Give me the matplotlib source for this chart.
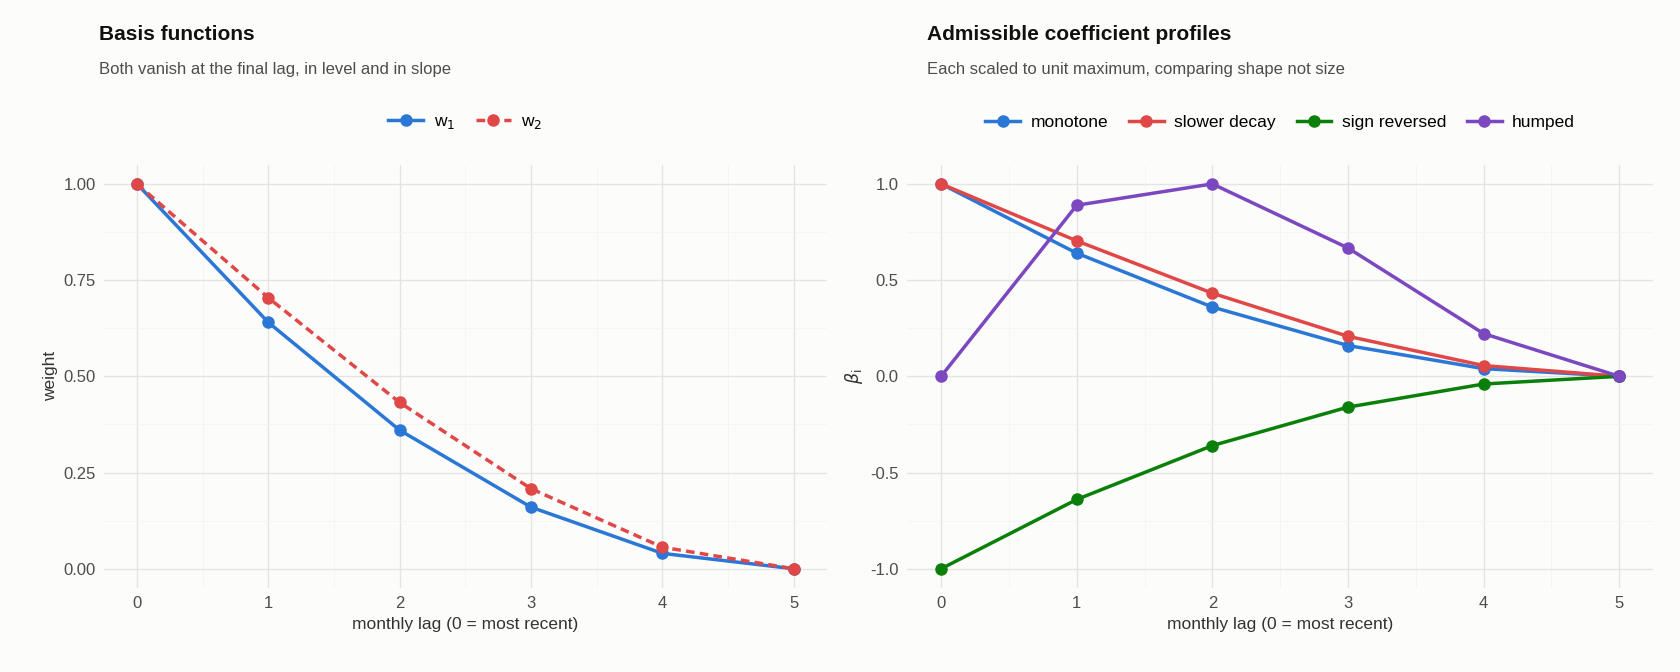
import matplotlib
matplotlib.use("Agg")
import matplotlib.pyplot as plt

lags = [0, 1, 2, 3, 4, 5]
w1 = [1.0, 0.64, 0.36, 0.16, 0.04, 0.0]
w2 = [1.0, 0.704, 0.432, 0.208, 0.056, 0.0]
monotone = [1.0, 0.64, 0.36, 0.16, 0.04, 0.0]
slower = [1.0, 0.704, 0.432, 0.208, 0.056, 0.0]
reversed_ = [-1.0, -0.64, -0.36, -0.16, -0.04, 0.0]
humped = [0.0, 0.889, 1.0, 0.667, 0.222, 0.0]

BG = "#FCFCFA"
BLUE, RED, GREEN, PURPLE = "#2A77D6", "#E04848", "#0A800A", "#7B48C0"
plt.rcParams["font.family"] = ["Liberation Sans", "DejaVu Sans"]

fig = plt.figure(figsize=(16.8, 6.72), dpi=100, facecolor=BG)
ax1 = fig.add_axes([0.062, 0.125, 0.43, 0.63], facecolor=BG)
ax2 = fig.add_axes([0.540, 0.125, 0.444, 0.63], facecolor=BG)

def style(ax, yticks, ylabels, ylim):
    ax.set_xlim(-0.25, 5.25)
    ax.set_ylim(*ylim)
    ax.set_xticks(lags)
    ax.set_yticks(yticks)
    ax.set_yticklabels(ylabels)
    minor = [(a + b) / 2 for a, b in zip(yticks[:-1], yticks[1:])]
    ax.set_yticks(minor, minor=True)
    ax.set_xticks([l + 0.5 for l in lags[:-1]], minor=True)
    ax.grid(True, which="major", color="#E4E4E4", lw=1.0)
    ax.grid(True, which="minor", color="#F3F3F3", lw=0.5)
    ax.set_axisbelow(True)
    for s in ax.spines.values():
        s.set_visible(False)
    ax.tick_params(which="both", length=0, labelsize=12, colors="#4D4D4D", pad=6)
    ax.set_xlabel("monthly lag (0 = most recent)", fontsize=12.5, color="#333333")

style(ax1, [0, 0.25, 0.5, 0.75, 1.0], ["0.00", "0.25", "0.50", "0.75", "1.00"], (-0.05, 1.05))
style(ax2, [-1, -0.5, 0, 0.5, 1], ["-1.0", "-0.5", "0.0", "0.5", "1.0"], (-1.1, 1.1))

ax1.plot(lags, w1, color=BLUE, lw=2.5, marker="o", ms=8, label="w$_1$", zorder=3)
ax1.plot(lags, w2, color=RED, lw=2.5, ls=(0, (2.5, 1.5)), marker="o", ms=8, label="w$_2$", zorder=3)
ax1.set_ylabel("weight", fontsize=12.5, color="#333333")

for y, c, lab in [(monotone, BLUE, "monotone"), (slower, RED, "slower decay"),
                  (reversed_, GREEN, "sign reversed"), (humped, PURPLE, "humped")]:
    ax2.plot(lags, y, color=c, lw=2.5, marker="o", ms=8, label=lab, zorder=3)
ax2.set_ylabel(r"$\beta_\mathrm{i}$", fontsize=12.5, color="#333333")

fig.text(0.059, 0.94, "Basis functions", fontsize=15, fontweight="bold", color="#111111")
fig.text(0.059, 0.89, "Both vanish at the final lag, in level and in slope", fontsize=12, color="#4D4D4D")
fig.text(0.552, 0.94, "Admissible coefficient profiles", fontsize=15, fontweight="bold", color="#111111")
fig.text(0.552, 0.89, "Each scaled to unit maximum, comparing shape not size", fontsize=12, color="#4D4D4D")

leg_kw = dict(frameon=False, fontsize=12.5, handlelength=2.0, borderaxespad=0, columnspacing=1.2, handletextpad=0.6)
ax1.legend(loc="center", bbox_to_anchor=(0.5, 1.1), ncol=2, **leg_kw)
ax2.legend(loc="center", bbox_to_anchor=(0.5, 1.1), ncol=4, **leg_kw)

fig.savefig("out.png", dpi=100, facecolor=BG)
